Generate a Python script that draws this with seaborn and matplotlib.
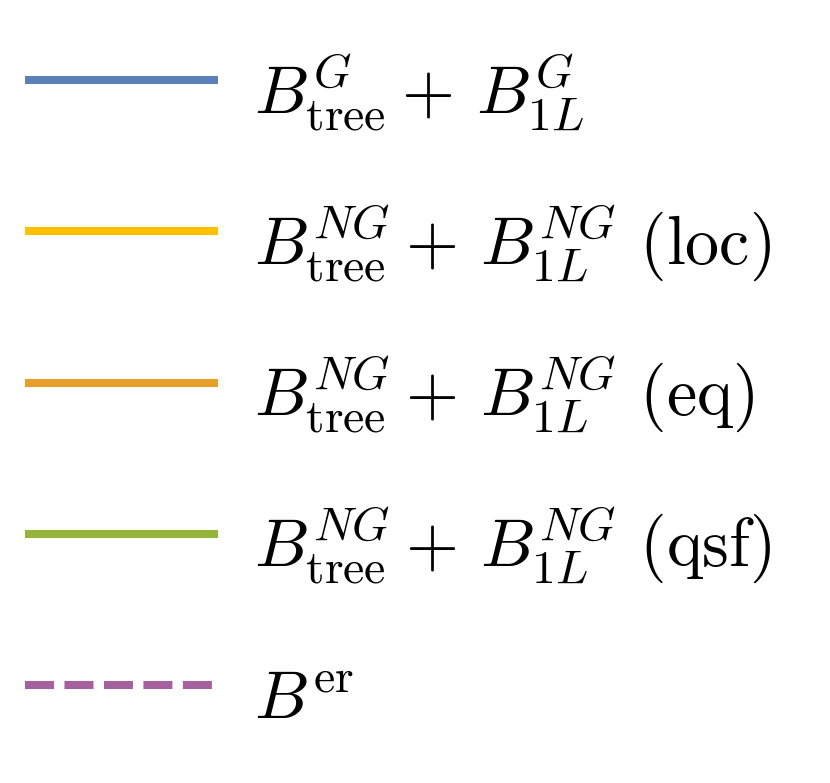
import matplotlib
matplotlib.use('Agg')
import matplotlib.pyplot as plt
from matplotlib.lines import Line2D
import seaborn as sns

# entradas de la leyenda
labels = [
    r'$B^{G}_{\mathrm{tree}} +\, B^{G}_{1L}$',
    r'$B^{NG}_{\mathrm{tree}} +\, B^{NG}_{1L}\ (\mathrm{loc})$',
    r'$B^{NG}_{\mathrm{tree}} +\, B^{NG}_{1L}\ (\mathrm{eq})$',
    r'$B^{NG}_{\mathrm{tree}} +\, B^{NG}_{1L}\ (\mathrm{qsf})$',
    r'$B^{\mathrm{er}}$',
]
colores = ['#5b7fb8', '#ffc000', '#e6a02a', '#95b53a', '#a5609e']
estilos = ['-', '-', '-', '-', (0, (3.6, 1.3))]

sns.set_theme(style='white')
plt.rcParams['mathtext.fontset'] = 'cm'
plt.rcParams['font.family'] = 'DejaVu Serif'
plt.rcParams['text.color'] = 'black'

fig = plt.figure(figsize=(8.3, 7.83), dpi=100)
ax = fig.add_axes([0, 0, 1, 1])
ax.axis('off')

handles = [Line2D([], [], color=c, lw=5.8, ls=s, dash_capstyle='butt', solid_capstyle='butt')
           for c, s in zip(colores, estilos)]
leg = ax.legend(handles, labels, loc='upper left', bbox_to_anchor=(0.0, 0.973),
                frameon=False, fontsize=49, labelcolor='black',
                handlelength=2.84, handletextpad=0.52, handleheight=1.7,
                labelspacing=0.87, borderaxespad=0.25, borderpad=0.12)

fig.savefig('out.png', dpi=100)
